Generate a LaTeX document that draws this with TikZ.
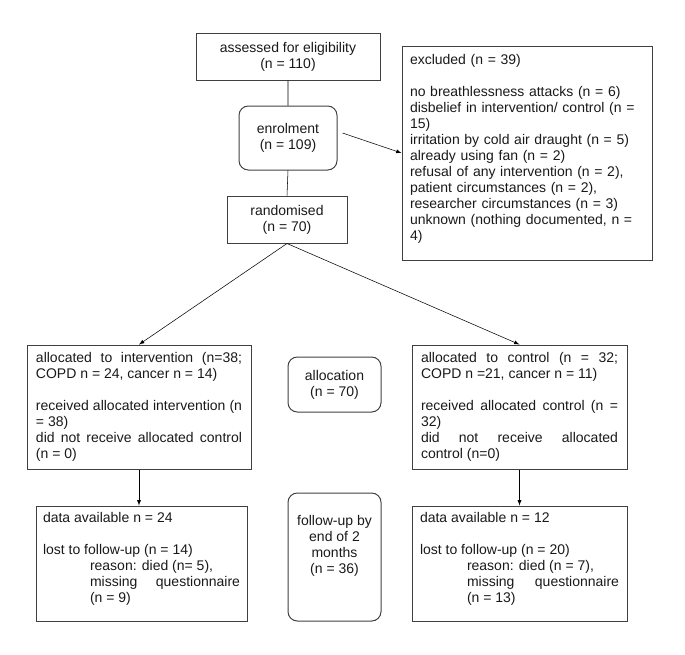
\documentclass[tikz,border=0pt]{standalone}
\usepackage{fontspec}
\setmainfont{Liberation Sans}
\begin{document}
\begin{tikzpicture}[x=0.75pt,y=-0.75pt,> = latex,
		box/.style={draw=black!75,line width=0.75pt,inner sep=0pt,
			font=\fontsize{10.5}{12}\selectfont,text=black!90},
		rbox/.style={box,rounded corners=7pt,align=center}]
	\useasboundingbox (0,0) rectangle (685,654);
	% top part
	\node[box,align=center,minimum width=138pt,minimum height=35.25pt] (assess) at (288,56.5)
		{assessed for eligibility\\(n = 110)};
	\node[rbox,minimum width=73.5pt,minimum height=48pt] (enrol) at (288,138)
		{enrolment\\(n = 109)};
	\node[box,align=center,minimum width=90pt,minimum height=35.25pt] (rand) at (287,219.5)
		{randomised\\(n = 70)};
	\node[box,align=left,text width=175.5pt,inner xsep=6pt,minimum height=160.5pt] (excl) at (527,153)
		{excluded (n = 39)\\[12pt]
		no breathlessness attacks (n = 6)\\
		disbelief in intervention/ control (n =\\
		15)\\
		irritation by cold air draught (n = 5)\\
		already using fan (n = 2)\\
		refusal of any intervention (n = 2),\\
		patient circumstances (n = 2),\\
		researcher circumstances (n = 3)\\
		unknown (nothing documented, n =\\
		4)\\[-3pt]\mbox{}};
	% allocation
	\node[box,align=justify,text width=154.5pt,inner xsep=6.75pt,minimum height=93pt] (allocint) at (139,407)
		{allocated to intervention (n=38;\linebreak
		COPD n = 24, cancer n = 14)\\[12pt]
		received allocated intervention (n\linebreak
		= 38)\\
		did not receive allocated control\linebreak
		(n = 0)};
	\node[rbox,minimum width=69.75pt,minimum height=41.25pt] (alloc) at (334.5,384.5)
		{allocation\\(n = 70)};
	\node[box,align=justify,text width=147.75pt,inner xsep=6.75pt,minimum height=93pt] (allocctl) at (519.5,407)
		{allocated to control (n = 32;\linebreak
		COPD n =21, cancer n = 11)\\[12pt]
		received allocated control (n =\linebreak
		32)\\
		did not receive allocated\linebreak
		control (n=0)};
	% follow-up
	\node[box,align=justify,text width=147.75pt,inner xsep=5.25pt,minimum height=86.25pt] (availint) at (141.5,563.5)
		{data available n = 24\\[12pt]
		lost to follow-up (n = 14)\\
		\hspace*{35.25pt}reason: died (n= 5),\\
		\hspace*{35.25pt}missing questionnaire\linebreak
		\hspace*{35.25pt}(n = 9)\\[-3.5pt]\mbox{}};
	\node[rbox,minimum width=69.75pt,minimum height=96pt] (follow) at (334.5,557)
		{follow-up by\\end of 2\\months\\(n = 36)\\[7pt]\mbox{}};
	\node[box,align=justify,text width=149.25pt,inner xsep=6pt,minimum height=86.25pt] (availctl) at (519.5,563.5)
		{data available n = 12\\[12pt]
		lost to follow-up (n = 20)\\
		\hspace*{35.25pt}reason: died (n = 7),\\
		\hspace*{35.25pt}missing questionnaire\linebreak
		\hspace*{35.25pt}(n = 13)\\[-3.5pt]\mbox{}};
	% connectors
	\draw (assess.south)--(enrol.north)
		  (enrol.south)--(rand.north);
	\draw[->] ([shift={(5,-5)}]enrol.east)--(excl.west);
	\draw[->] (rand.south)--(allocint.north);
	\draw[->] (rand.south)--(allocctl.north);
	\draw[->] (allocint.south)--(allocint.south |- availint.north);
	\draw[->] (allocctl.south)--(availctl.north);
\end{tikzpicture}
\end{document}
